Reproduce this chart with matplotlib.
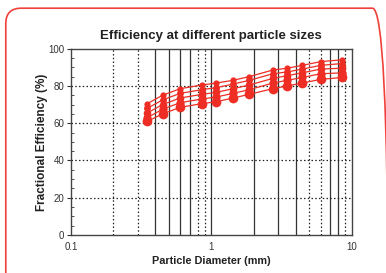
"""Fractional efficiency vs particle diameter"""
import matplotlib
matplotlib.use("Agg")
import matplotlib.pyplot as plt
from matplotlib.patches import FancyBboxPatch

plt.rcParams['font.family'] = ['Liberation Sans', 'DejaVu Sans']

# particle diameters (mm)
diameters = [0.35, 0.45, 0.60, 0.86, 1.08, 1.43, 1.87, 2.74, 3.48, 4.45, 6.0, 8.58]

# fractional efficiency (%) for each curve
eff_1 = [70.5, 75.0, 78.5, 80.5, 81.5, 83.0, 85.0, 88.5, 89.5, 91.0, 93.0, 94.0]
eff_2 = [68.0, 72.5, 76.0, 78.0, 79.0, 81.0, 83.0, 86.5, 87.5, 89.0, 91.0, 92.0]
eff_3 = [65.5, 70.0, 73.5, 75.5, 76.5, 78.5, 80.5, 84.0, 85.5, 87.0, 89.0, 89.5]
eff_4 = [63.0, 67.5, 71.0, 73.0, 74.0, 76.0, 78.0, 81.5, 83.0, 84.5, 86.5, 87.0]
eff_5 = [61.0, 65.0, 68.5, 70.5, 71.5, 73.5, 75.5, 78.5, 80.0, 81.5, 83.5, 84.5]

# the odd mix of vertical grid lines in the original
solid_grid = [0.4, 0.5, 0.6, 0.7, 1, 2, 3, 4, 7, 8]
dotted_grid = [0.2, 0.3, 0.8, 0.9, 5, 6, 9]
y_grid = [20, 40, 60, 80]

fig = plt.figure(figsize=(3.86, 2.73), dpi=100)
ax = fig.add_axes([0.184, 0.139, 0.727, 0.683])

# red rounded frame round the whole picture
frame = FancyBboxPatch((0.015, -0.2), 0.99, 1.17, boxstyle="round,pad=0,rounding_size=0.04",
                       transform=fig.transFigure, facecolor='none', edgecolor='#f0403a',
                       linewidth=1.2, mutation_aspect=386 / 273, clip_on=False)
fig.patches.append(frame)

for xv in solid_grid:
    ax.axvline(xv, color='#333333', linewidth=0.9, zorder=1)
for xv in dotted_grid:
    ax.axvline(xv, color='#222222', linewidth=0.9, linestyle=(0, (1.2, 1.8)), zorder=1)
for yv in y_grid:
    ax.axhline(yv, color='#222222', linewidth=0.9, linestyle=(0, (1.2, 1.8)), zorder=1)

red = '#ee2d24'
for series, ms in zip([eff_1, eff_2, eff_3, eff_4, eff_5], [4.5, 5, 5.5, 6, 7]):
    ax.plot(diameters, series, color=red, linewidth=0.9, marker='o', markersize=ms,
            markeredgewidth=0, zorder=3)

ax.set_xscale('log')
ax.set_xlim(0.1, 10)
ax.set_ylim(0, 100)
ax.set_xticks([0.1, 1, 10])
ax.set_xticklabels(['0.1', '1', '10'])
ax.xaxis.set_minor_locator(matplotlib.ticker.NullLocator())
ax.set_yticks([0, 20, 40, 60, 80, 100])
ax.set_yticks(range(0, 101, 5), minor=True)
ax.tick_params(axis='x', length=0, labelsize=7, colors='#333333', pad=5)
ax.tick_params(axis='y', which='major', length=3, direction='out', labelsize=7, colors='#333333', pad=2)
ax.tick_params(axis='y', which='minor', length=2, direction='in', color='#333333')
for sp in ax.spines.values():
    sp.set_color('#444444')
    sp.set_linewidth(1.0)

ax.set_title('Efficiency at different particle sizes', fontsize=9.5, fontweight='bold',
             color='#222222', pad=7)
ax.set_xlabel('Particle Diameter (mm)', fontsize=7.8, fontweight='bold', color='#222222', labelpad=3)
ax.set_ylabel('Fractional Efficiency (%)', fontsize=8.5, fontweight='bold', color='#222222', labelpad=0)

fig.savefig('out.png', dpi=100)
